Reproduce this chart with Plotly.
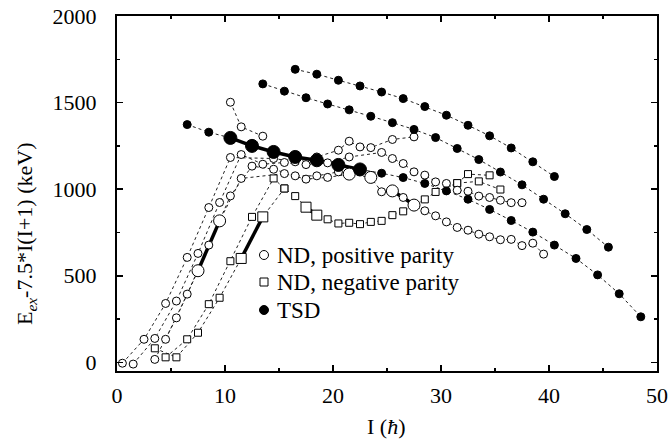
import plotly.graph_objects as go

FONT = "Liberation Serif"

# ---------------- data ----------------
# ND positive parity bands (open circles)
posA_I = [0.5, 2.5, 4.5, 6.5, 8.5, 10.5, 14.5, 16.5, 18.5, 20.5, 21.5, 22.5, 23.5, 25.5, 27.5]
posA_E = [-5, 133, 340, 606, 894, 1183, 1177, 1158, 1186, 1225, 1277, 1244, 1240, 1287, 1302]

posB_I = [1.5, 3.5, 5.5, 7.5, 9.5, 11.5, 13.5, 15.5, 17.5, 19.5, 21.5, 24.5, 25.5, 26.5, 27.5,
          28.5, 29.5, 30.5, 31.5, 32.5, 33.5, 34.5, 35.5, 36.5, 37.5]
posB_E = [-10, 138, 354, 629, 923, 1200, 1144, 1154, 1142, 1152, 1186, 1212, 1177, 1148, 1100,
          1081, 1042, 1033, 994, 988, 960, 952, 936, 922, 922]

posC_I = [3.5, 5.5, 7.5, 9.5, 11.5, 15.5, 17.5, 19.5, 21.5, 23.5, 24.5, 25.5, 26.5, 27.5, 28.5,
          29.5, 30.5, 31.5, 32.5, 33.5, 34.5, 35.5, 36.5, 37.5, 38.5, 39.5]
posC_E = [17, 257, 529, 817, 1062, 1090, 1058, 1068, 1087, 1068, 985, 990, 952, 908, 875,
          846, 811, 779, 763, 740, 725, 708, 710, 674, 688, 625]
posC_big = [7.5, 9.5, 21.5, 23.5, 25.5, 27.5]

posD_I = [4.5, 6.5, 8.5, 10.5, 12.5, 14.5, 16.5, 18.5, 20.5]
posD_E = [133, 394, 677, 961, 1133, 1115, 1077, 1077, 1100]

posT_I = [10.5, 11.5, 13.5]
posT_E = [1502, 1360, 1306]

# ND negative parity bands (open squares)
neg1_I = [3.5, 5.5, 7.5, 9.5, 11.5, 13.5, 15.5]
neg1_E = [81, 29, 171, 373, 600, 840, 1004]
neg1_big = [11.5, 13.5]

neg2_I = [4.5, 6.5, 8.5, 10.5, 12.5, 14.5, 15.5, 16.5, 17.5, 18.5, 19.5, 20.5, 21.5, 22.5,
          23.5, 24.5, 25.5, 26.5, 28.5, 29.5, 31.5, 33.5, 35.5]
neg2_E = [29, 133, 336, 584, 840, 1062, 1004, 960, 896, 850, 826, 802, 806, 798,
          811, 817, 850, 872, 941, 984, 1035, 1045, 998]
neg2_big = [17.5, 18.5]

neg3_I = [31.5, 32.5, 34.5]
neg3_E = [1035, 1087, 1080]

# TSD bands (filled circles)
tsdA_I = [6.5, 8.5, 10.5, 12.5, 14.5, 16.5, 18.5, 20.5, 22.5, 24.5, 26.5, 28.5, 30.5,
          32.5, 34.5, 36.5, 38.5, 40.5, 42.5, 44.5, 46.5, 48.5]
tsdA_E = [1373, 1329, 1296, 1250, 1215, 1186, 1167, 1140, 1114, 1092, 1067, 1033, 990,
          942, 883, 819, 752, 677, 600, 505, 396, 263]
tsdA_big = [10.5, 12.5, 14.5, 16.5, 18.5, 20.5, 22.5]

tsdB_I = [13.5, 15.5, 17.5, 19.5, 21.5, 23.5, 25.5, 27.5, 29.5, 31.5, 33.5, 35.5, 37.5,
          39.5, 41.5, 43.5, 45.5]
tsdB_E = [1608, 1566, 1528, 1492, 1458, 1421, 1384, 1345, 1298, 1235, 1171, 1099, 1025,
          942, 858, 767, 665]

tsdC_I = [16.5, 18.5, 20.5, 22.5, 24.5, 26.5, 28.5, 30.5, 32.5, 34.5, 36.5, 38.5, 40.5]
tsdC_E = [1692, 1664, 1629, 1596, 1561, 1523, 1477, 1427, 1369, 1308, 1238, 1158, 1073]

# linking (thick) segments: (band I, band E, first I, last I)
thick = [
    (posC_I, posC_E, 7.5, 9.5),
    (posC_I, posC_E, 25.5, 27.5),
    (neg1_I, neg1_E, 11.5, 13.5),
    (neg2_I, neg2_E, 17.5, 18.5),
    (tsdA_I, tsdA_E, 10.5, 22.5),
]

legend_names = ["ND, positive parity", "ND, negative parity", "TSD"]

# ---------------- figure ----------------
fig = go.Figure()


def dotted(I, E):
    fig.add_trace(go.Scatter(x=I, y=E, mode="lines",
                             line=dict(color="#222", width=1, dash="dot"),
                             showlegend=False, hoverinfo="skip"))


def sub(I, E, a, b):
    xs = [i for i in I if a <= i <= b]
    ys = [e for i, e in zip(I, E) if a <= i <= b]
    return xs, ys


def markers(I, E, symbol, fill, small, large, big=()):
    sizes = [large if i in big else small for i in I]
    fig.add_trace(go.Scatter(x=I, y=E, mode="markers",
                             marker=dict(symbol=symbol, size=sizes, color=fill, opacity=1,
                                         line=dict(color="black", width=1)),
                             showlegend=False, hoverinfo="skip"))


for I, E in [(posA_I, posA_E), (posB_I, posB_E), (posC_I, posC_E), (posD_I, posD_E),
             (posT_I, posT_E), (neg1_I, neg1_E), (neg2_I, neg2_E), (neg3_I, neg3_E),
             (tsdA_I, tsdA_E), (tsdB_I, tsdB_E), (tsdC_I, tsdC_E)]:
    dotted(I, E)

for I, E, a, b in thick:
    xs, ys = sub(I, E, a, b)
    fig.add_trace(go.Scatter(x=xs, y=ys, mode="lines",
                             line=dict(color="black", width=3.5),
                             showlegend=False, hoverinfo="skip"))

markers(neg1_I, neg1_E, "square", "white", 7, 10, neg1_big)
markers(neg2_I, neg2_E, "square", "white", 7, 10, neg2_big)
markers(neg3_I, neg3_E, "square", "white", 7, 10)
markers(posA_I, posA_E, "circle", "white", 8, 12)
markers(posB_I, posB_E, "circle", "white", 8, 12)
markers(posC_I, posC_E, "circle", "white", 8, 12, posC_big)
markers(posD_I, posD_E, "circle", "white", 8, 12)
markers(posT_I, posT_E, "circle", "white", 8, 12)
markers(tsdA_I, tsdA_E, "circle", "black", 8, 13, tsdA_big)
markers(tsdB_I, tsdB_E, "circle", "black", 8, 13)
markers(tsdC_I, tsdC_E, "circle", "black", 8, 13)

# ---- key (drawn in paper coordinates inside the plot frame) ----
L, T, W, H = 117, 16, 540, 355


def px(x):
    return (x - L) / W


def py(y):
    return (T + H - y) / H


key_y = [255, 282, 310]
key_sym_x = 264
shapes = []
annotations = []
for name, yy, kind in zip(legend_names, key_y, ["ocircle", "osquare", "fcircle"]):
    r = 4.5 if kind != "osquare" else 4
    shapes.append(dict(type="circle" if kind != "osquare" else "rect",
                       xref="paper", yref="paper",
                       x0=px(key_sym_x - r), x1=px(key_sym_x + r),
                       y0=py(yy + r), y1=py(yy - r),
                       line=dict(color="black", width=1),
                       fillcolor="black" if kind == "fcircle" else "white"))
    annotations.append(dict(text=name, xref="paper", yref="paper",
                            x=px(276), y=py(yy), xanchor="left", yanchor="middle",
                            showarrow=False, borderpad=0,
                            font=dict(family=FONT, size=23, color="black")))

annotations.append(dict(text="E<sub><i>ex</i></sub>-7.5*I(I+1) (keV)", textangle=-90,
                        xref="paper", yref="paper", x=px(26), y=py(234),
                        xanchor="center", yanchor="middle", showarrow=False,
                        font=dict(family=FONT, size=22, color="black")))
annotations.append(dict(text="I (<i>ħ</i>)", xref="paper", yref="paper",
                        x=px(386), y=py(426), xanchor="center", yanchor="middle",
                        showarrow=False, font=dict(family=FONT, size=22, color="black")))

axis_common = dict(showline=True, linecolor="black", linewidth=2, mirror="ticks",
                   ticks="inside", ticklen=6, tickwidth=1.5, tickcolor="black",
                   showgrid=False, zeroline=False, automargin=False,
                   tickfont=dict(family=FONT, size=22, color="black"))

fig.update_layout(
    width=669, height=441,
    margin=dict(l=117, r=12, t=16, b=70, autoexpand=False),
    paper_bgcolor="white", plot_bgcolor="white",
    font=dict(family=FONT, size=22, color="black"),
    showlegend=False,
    hovermode=False,
    xaxis=dict(range=[0, 50], tick0=0, dtick=10,
               minor=dict(dtick=5, ticks="inside", ticklen=3, tickcolor="black", tickwidth=1.5),
               ticklabelstandoff=4,
               **axis_common),
    yaxis=dict(range=[-50, 2000], tick0=0, dtick=500,
               minor=dict(dtick=250, ticks="inside", ticklen=3, tickcolor="black", tickwidth=1.5),
               ticklabelstandoff=14,
               **axis_common),
    shapes=shapes,
    annotations=annotations,
)

fig.write_html("out.html",
               config={"displayModeBar": False, "staticPlot": True},
               post_script="document.body.style.margin='0px';document.body.style.overflow='hidden';")
